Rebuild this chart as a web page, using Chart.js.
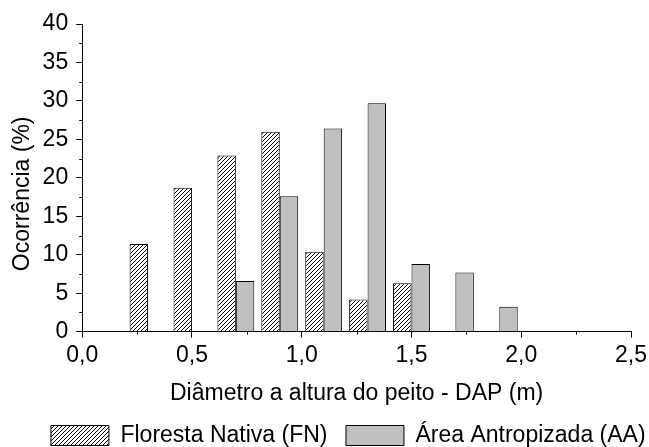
<!DOCTYPE html>
<html>
<head>
<meta charset="utf-8">
<script src="https://cdn.jsdelivr.net/npm/chart.js@4.4.1/dist/chart.umd.min.js"></script>
<style>
  html, body { margin: 0; padding: 0; background: #fff; }
  #wrap { width: 649px; height: 447px; }
</style>
</head>
<body>
<div id="wrap"><canvas id="chart"></canvas></div>
<script>
// class centres (m) and occurrence (%) per area
const binCenters = [0.3, 0.5, 0.7, 0.9, 1.1, 1.3, 1.5, 1.7, 1.9];
const florestaNativa = [11.4, 18.7, 22.9, 26.0, 10.4, 4.2, 6.3, null, null];
const areaAntropizada = [null, null, 6.6, 17.6, 26.4, 29.7, 8.8, 7.7, 3.25];

const xTicks = [0, 0.5, 1.0, 1.5, 2.0, 2.5];
const yTicks = [0, 5, 10, 15, 20, 25, 30, 35, 40];

const FONT = { family: "'Liberation Sans', Arial, sans-serif", size: 23 };

// diagonal hatch for the native forest bars
function makeHatch() {
	const c = document.createElement('canvas');
	c.width = 4; c.height = 4;
	const g = c.getContext('2d');
	g.fillStyle = '#fff';
	g.fillRect(0, 0, 4, 4);
	g.strokeStyle = '#000';
	g.lineWidth = 1;
	g.beginPath();
	g.moveTo(0, 4); g.lineTo(4, 0);
	g.moveTo(-1, 1); g.lineTo(1, -1);
	g.moveTo(3, 5); g.lineTo(5, 3);
	g.stroke();
	return g.createPattern(c, 'repeat');
}

// small ticks halfway between the labelled ones
const minorTicks = {
	id: 'minorTicks',
	afterDraw(chart) {
		const { ctx, scales: { x, y } } = chart;
		ctx.save();
		ctx.strokeStyle = '#000';
		ctx.lineWidth = 1;
		ctx.beginPath();
		for (let i = 0; i < xTicks.length - 1; i++) {
			const px = Math.round(x.getPixelForValue((xTicks[i] + xTicks[i + 1]) / 2)) + 0.5;
			ctx.moveTo(px, x.top);
			ctx.lineTo(px, x.top + 3);
		}
		for (let i = 0; i < yTicks.length - 1; i++) {
			const py = Math.round(y.getPixelForValue((yTicks[i] + yTicks[i + 1]) / 2)) + 0.5;
			ctx.moveTo(y.right, py);
			ctx.lineTo(y.right - 3, py);
		}
		ctx.stroke();
		ctx.restore();
	}
};

const fmt = v => Number(v).toFixed(1).replace('.', ',');

new Chart(document.getElementById('chart').getContext('2d'), {
	type: 'bar',
	data: {
		datasets: [
			{
				label: 'Floresta Nativa (FN)',
				data: binCenters.map((x, i) => ({ x: x, y: florestaNativa[i] })),
				backgroundColor: makeHatch(),
				borderColor: '#000',
				borderWidth: 1
			},
			{
				label: 'Área Antropizada (AA)',
				data: binCenters.map((x, i) => ({ x: x, y: areaAntropizada[i] })),
				backgroundColor: '#c0c0c0',
				borderColor: '#000',
				borderWidth: 1
			}
		]
	},
	options: {
		responsive: true,
		maintainAspectRatio: false,
		animation: false,
		categoryPercentage: 0.84,
		barPercentage: 1.0,
		// negative right padding only to shift the centred legend row
		layout: { padding: { top: 24, right: -47.5, bottom: -10, left: 0 } },
		plugins: {
			tooltip: { enabled: false },
			legend: {
				position: 'bottom',
				labels: {
					boxWidth: 58,
					boxHeight: 20,
					padding: 18.5,
					color: '#000',
					font: FONT
				}
			}
		},
		scales: {
			x: {
				type: 'linear',
				offset: false,
				min: 0,
				max: 2.5,
				afterBuildTicks: axis => { axis.ticks = xTicks.map(v => ({ value: v })); },
				ticks: {
					color: '#000',
					font: { family: FONT.family, size: 23, lineHeight: 1.4 },
					padding: 2,
					maxRotation: 0,
					callback: fmt
				},
				grid: { offset: false, drawOnChartArea: false, drawTicks: true, tickLength: 6, color: '#000' },
				border: { display: true, color: '#000', width: 1 },
				title: {
					display: true,
					text: 'Diâmetro a altura do peito - DAP (m)',
					color: '#000',
					font: FONT,
					padding: { top: 6, bottom: -2 }
				}
			},
			y: {
				min: 0,
				max: 40,
				afterBuildTicks: axis => { axis.ticks = yTicks.map(v => ({ value: v })); },
				ticks: { color: '#000', font: FONT, padding: 8 },
				grid: { drawOnChartArea: false, drawTicks: true, tickLength: 6, color: '#000' },
				border: { display: true, color: '#000', width: 1 },
				title: {
					display: true,
					text: 'Ocorrência (%)\u00a0\u00a0\u00a0\u00a0\u00a0',
					color: '#000',
					font: FONT,
					padding: { top: 9, bottom: -2 }
				}
			}
		}
	},
	plugins: [minorTicks]
});
</script>
</body>
</html>
